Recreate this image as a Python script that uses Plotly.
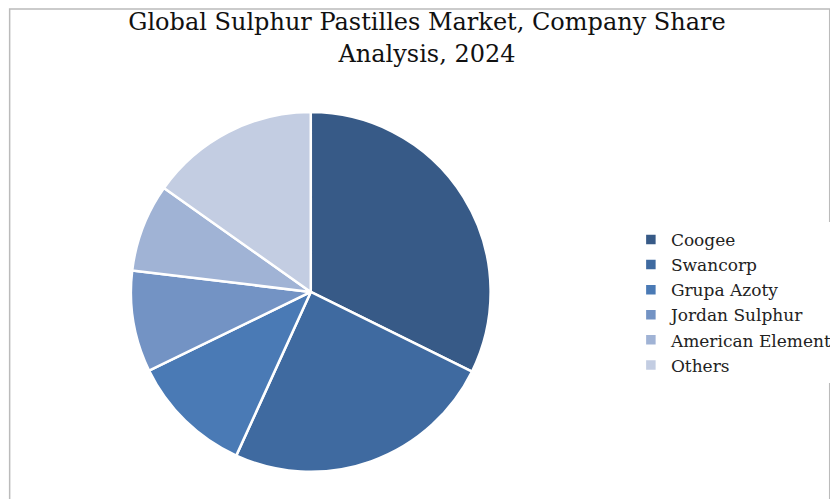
import plotly.graph_objects as go

companies = ["Coogee", "Swancorp", "Grupa Azoty", "Jordan Sulphur", "American Elements", "Others"]
shares = [32.3, 24.5, 11.0, 9.1, 7.9, 15.2]
colors = ["#375A87", "#3F6AA0", "#4A7AB5", "#7393C4", "#A0B3D5", "#C3CDE2"]

fig = go.Figure(go.Pie(
    labels=companies, values=shares, sort=False, direction="clockwise", rotation=0,
    marker=dict(colors=colors, line=dict(color="white", width=2.5)),
    textinfo="none", hoverinfo="label+percent",
    domain=dict(x=[0.149, 0.585], y=[0.064, 0.798]),
))
fig.update_layout(
    width=838, height=499, margin=dict(l=0, r=0, t=0, b=0),
    paper_bgcolor="white",
    font=dict(family="DejaVu Serif, Liberation Serif, serif", color="#222"),
    title=dict(text="Global Sulphur Pastilles Market, Company Share<br>Analysis, 2024",
               x=0.5, xanchor="center", y=0.955, yanchor="top",
               font=dict(size=24, family="DejaVu Serif, serif", color="#111")),
    legend=dict(x=0.755, y=0.41, xanchor="left", yanchor="middle",
                font=dict(size=17), tracegroupgap=0, itemwidth=30),
    shapes=[dict(type="rect", xref="paper", yref="paper", x0=0.002, y0=0.004, x1=0.996, y1=0.998,
                 line=dict(color="#BBBBBB", width=1.5))],
)
fig.write_html("out.html")
